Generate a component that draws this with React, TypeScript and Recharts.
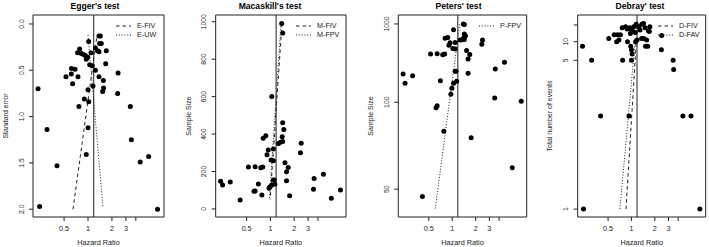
import React from 'react';
import { ScatterChart, Scatter, XAxis, YAxis, ReferenceLine, ReferenceArea, Legend } from 'recharts';

const FONT = '"Liberation Sans", Arial, Helvetica, sans-serif';
const INK = '#222';

// shared hazard ratio axis (log scale)
const hrTicks = [0.5, 1, 2, 3, 4];
const hrDomain: [number, number] = [0.203, 9.05];
const pooledHR = 1.18;

// Egger's test: hazard ratio vs standard error
const eggerHR = [0.235, 0.246, 0.305, 0.407, 0.528, 0.616, 0.62, 0.686, 0.64, 0.748, 0.77, 0.74, 0.784, 0.824, 0.88, 0.925, 0.952, 0.99, 1.02, 1.05, 1.09, 1.13, 0.9, 1.0, 1.02, 1.0, 0.95, 1.156, 1.24, 1.24, 1.32, 1.375, 1.43, 1.4, 1.47, 1.375, 1.375, 1.56, 1.57, 1.53, 1.67, 1.7, 2.39, 2.36, 3.41, 3.51, 4.55, 5.8, 7.5];
const eggerSE = [0.7, 1.97, 1.14, 1.53, 0.57, 0.54, 0.48, 0.49, 0.645, 0.57, 0.89, 0.31, 0.27, 0.32, 0.33, 0.34, 0.38, 0.36, 0.19, 0.44, 0.31, 0.45, 0.81, 0.71, 0.84, 1.12, 1.41, 0.67, 0.5, 0.26, 0.29, 0.13, 0.13, 0.21, 0.21, 0.3, 0.57, 0.61, 0.69, 0.73, 0.43, 0.29, 0.53, 0.75, 0.89, 1.25, 1.49, 1.43, 2.0];
const eggerFivHR = [0.647, 1.3];
const eggerFivSE = [2.0, 0.12];
const eggerUwHR = [1.0, 1.54];
const eggerUwSE = [0.12, 1.97];
const eggerTicks = [0, 0.5, 1, 1.5, 2];
const eggerTickLabels = ['0.0', '0.5', '1.0', '1.5', '2.0'];

// Macaskill's and Peters' tests: hazard ratio vs sample size
const studyHR = [1.39, 1.43, 1.04, 1.43, 1.48, 1.41, 0.81, 0.875, 1.26, 1.34, 1.43, 1.09, 0.94, 0.906, 1.02, 1.09, 2.45, 2.4, 1.53, 1.68, 1.6, 1.6, 1.75, 0.527, 0.64, 0.755, 0.8, 0.234, 0.248, 0.31, 0.414, 0.64, 0.62, 0.705, 0.78, 0.99, 1.04, 1.09, 0.96, 1.12, 1.14, 3.57, 3.51, 4.69, 5.9, 7.7];
const sampleSize = [990, 940, 600, 461, 425, 386, 377, 391, 350, 356, 360, 320, 315, 290, 262, 258, 351, 300, 247, 221, 199, 150, 71, 224, 226, 220, 224, 148, 128, 144, 48, 96, 94, 133, 75, 119, 128, 155, 110, 155, 132, 162, 105, 185, 57, 101];
const macaskillFivHR = [1.4, 0.99];
const macaskillFivN = [990, 50];
const macaskillFpvHR = [1.36, 0.97];
const macaskillFpvN = [990, 50];
const macaskillTicks = [0, 200, 400, 600, 800, 1000];
const petersFpvHR = [0.606, 1.25];
const petersFpvN = [45, 1000];
const petersTickN = [1000, 100, 50];

// Debray's test: hazard ratio vs total number of events
const debrayHR = [0.241, 7.6, 0.4, 0.93, 4.6, 5.85, 0.234, 0.307, 0.77, 1.0, 3.44, 3.5, 2.43, 2.45, 0.51, 0.6, 0.66, 0.72, 0.69, 0.645, 0.89, 0.98, 1.0, 1.02, 1.13, 1.18, 1.35, 1.44, 1.57, 1.52, 1.62, 1.7, 0.76, 0.84, 0.88, 0.95, 1.0, 1.07, 1.15, 1.24, 1.36, 1.43, 1.5, 1.05, 1.12, 0.97, 1.29, 1.73, 1.65];
const debrayEvents = [1, 1, 2, 2, 2, 2, 8, 5, 5, 5, 5, 4, 7, 15, 12, 16, 16, 16, 11, 10, 10, 8, 7, 6, 10, 11, 12, 12, 11, 8, 8, 22, 40, 52, 32, 40, 27, 52, 150, 52, 150, 500, 40, 22, 20, 18, 27, 52, 24];
const debrayFivHR = [0.85, 1.15];
const debrayFivEvents = [1, 9];
const debrayFavHR = [0.71, 1.11];
const debrayFavEvents = [1, 9];
const debrayTickEvents = [100, 10, 5, 1];
const debrayTickLabels = ['', '10', '5', '1'];

const DASHED = '3.5 3';
const DOTTED = '1 1.8';

type Pt = { x: number; y: number };
const zip = (xs: number[], ys: number[], f: (v: number) => number = (v) => v): Pt[] =>
  xs.map((x, i) => ({ x, y: f(ys[i]) }));
const inv = (v: number) => 1 / v;

const dot = (props: any) => <circle cx={props.cx} cy={props.cy} r={2.5} fill="#000" />;
const noShape = () => <g />;

interface PanelProps {
  left: number;
  width: number;
  yWidth: number;
  right: number;
  title: string;
  titleX: number;
  yLabel: string;
  yLabelX: number;
  yDomain: [number, number];
  reversed: boolean;
  yTicks: number[];
  yTickLabels: string[];
  points: Pt[];
  lines: { pts: Pt[]; dash: string }[];
  legend: { label: string; dash: string }[];
  legendX: number;
}

function Panel(p: PanelProps) {
  const yTick = (props: any) => {
    const idx = p.yTicks.indexOf(props.payload.value);
    return (
      <text transform={`translate(${props.x - 3.5},${props.y}) rotate(-90)`} textAnchor="middle" fontSize={6.8} fill={INK} fontFamily={FONT}>
        {idx >= 0 ? p.yTickLabels[idx] : ''}
      </text>
    );
  };
  const legendContent = () => (
    <div style={{ fontFamily: FONT, fontSize: 7.2, color: INK }}>
      {p.legend.map((l) => (
        <div key={l.label} style={{ display: 'flex', alignItems: 'center', height: 9 }}>
          <svg width={15} height={6}>
            <line x1={0} y1={3} x2={15} y2={3} stroke={INK} strokeDasharray={l.dash} />
          </svg>
          <span style={{ marginLeft: 6 }}>{l.label}</span>
        </div>
      ))}
    </div>
  );
  return (
    <div style={{ position: 'absolute', left: p.left, top: 0, width: p.width, height: 247 }}>
      <div style={{ position: 'absolute', left: p.titleX - p.left - 50, width: 100, top: 1, textAlign: 'center', fontFamily: FONT, fontWeight: 'bold', fontSize: 8.6, color: '#000' }}>
        {p.title}
      </div>
      <ScatterChart width={p.width} height={247} margin={{ top: 15, right: p.right, bottom: 0, left: 0 }}>
        <XAxis
          type="number"
          dataKey="x"
          scale="log"
          domain={hrDomain}
          allowDataOverflow
          ticks={hrTicks}
          interval={0}
          tickFormatter={(v: number) => (v === 4 ? '' : String(v))}
          height={30}
          axisLine={false}
          tickSize={4}
          tickMargin={5}
          tickLine={{ stroke: INK }}
          tick={{ fontSize: 7.2, fill: INK, fontFamily: FONT }}
          label={{
            content: ({ viewBox }: any) => (
              <text x={viewBox.x + viewBox.width / 2} y={viewBox.y + 27.5} textAnchor="middle" fontSize={7.3} fill={INK} fontFamily={FONT}>
                Hazard Ratio
              </text>
            ),
          }}
        />
        <YAxis
          type="number"
          dataKey="y"
          domain={p.yDomain}
          allowDataOverflow
          reversed={p.reversed}
          ticks={p.yTicks}
          interval={0}
          width={p.yWidth}
          axisLine={false}
          tickSize={4}
          tickLine={{ stroke: INK }}
          tick={yTick}
          label={{
            content: ({ viewBox }: any) => (
              <text
                transform={`translate(${p.yLabelX},${viewBox.y + viewBox.height / 2}) rotate(-90)`}
                textAnchor="middle"
                dominantBaseline="central"
                fontSize={7}
                fill={INK}
                fontFamily={FONT}
              >
                {p.yLabel}
              </text>
            ),
          }}
        />
        <ReferenceArea x1={hrDomain[0]} x2={hrDomain[1]} y1={p.yDomain[0]} y2={p.yDomain[1]} fill="none" stroke={INK} strokeWidth={1} ifOverflow="visible" />
        <ReferenceLine x={pooledHR} stroke={INK} strokeWidth={1} />
        {p.lines.map((l, i) => (
          <Scatter key={i} data={l.pts} shape={noShape} line={{ stroke: INK, strokeWidth: 1, strokeDasharray: l.dash }} legendType="none" isAnimationActive={false} />
        ))}
        <Scatter data={p.points} shape={dot} fill="#000" isAnimationActive={false} />
        <Legend layout="horizontal" verticalAlign="middle" align="center" wrapperStyle={{ left: p.legendX, top: 21, width: 60, height: 20 }} content={legendContent} />
      </ScatterChart>
    </div>
  );
}

export default function App() {
  const petersTicks = petersTickN.map(inv);
  const debrayTicks = debrayTickEvents.map(inv);
  return (
    <div style={{ position: 'absolute', left: 0, top: 0, width: 709, height: 247, background: '#fff' }}>
      <Panel
        left={0}
        width={170}
        yWidth={33}
        right={6}
        title="Egger's test"
        titleX={95}
        yLabel="Standard error"
        yLabelX={5.5}
        yDomain={[-0.097, 2.084]}
        reversed
        yTicks={eggerTicks}
        yTickLabels={eggerTickLabels}
        points={zip(eggerHR, eggerSE)}
        lines={[
          { pts: zip(eggerFivHR, eggerFivSE), dash: DASHED },
          { pts: zip(eggerUwHR, eggerUwSE), dash: DOTTED },
        ]}
        legend={[
          { label: 'E-FIV', dash: DASHED },
          { label: 'E-UW', dash: DOTTED },
        ]}
        legendX={116}
      />
      <Panel
        left={172}
        width={178}
        yWidth={43.7}
        right={4}
        title="Macaskill's test"
        titleX={270}
        yLabel="Sample Size"
        yLabelX={16.5}
        yDomain={[-43, 1036]}
        reversed={false}
        yTicks={macaskillTicks}
        yTickLabels={macaskillTicks.map(String)}
        points={zip(studyHR, sampleSize)}
        lines={[
          { pts: zip(macaskillFivHR, macaskillFivN), dash: DASHED },
          { pts: zip(macaskillFpvHR, macaskillFpvN), dash: DOTTED },
        ]}
        legend={[
          { label: 'M-FIV', dash: DASHED },
          { label: 'M-FPV', dash: DOTTED },
        ]}
        legendX={124}
      />
      <Panel
        left={352}
        width={178}
        yWidth={46.3}
        right={3.3}
        title="Peters' test"
        titleX={458.5}
        yLabel="Sample Size"
        yLabelX={18}
        yDomain={[-0.00003, 0.0232]}
        reversed
        yTicks={petersTicks}
        yTickLabels={petersTickN.map(String)}
        points={zip(studyHR, sampleSize, inv)}
        lines={[{ pts: zip(petersFpvHR, petersFpvN, inv), dash: DOTTED }]}
        legend={[{ label: 'P-FPV', dash: DOTTED }]}
        legendX={127}
      />
      <Panel
        left={532}
        width={177}
        yWidth={45.7}
        right={3.3}
        title="Debray' test"
        titleX={640}
        yLabel="Total number of events"
        yLabelX={17.5}
        yDomain={[-0.0435, 1.0425]}
        reversed
        yTicks={debrayTicks}
        yTickLabels={debrayTickLabels}
        points={zip(debrayHR, debrayEvents, inv)}
        lines={[
          { pts: zip(debrayFivHR, debrayFivEvents, inv), dash: DASHED },
          { pts: zip(debrayFavHR, debrayFavEvents, inv), dash: DOTTED },
        ]}
        legend={[
          { label: 'D-FIV', dash: DASHED },
          { label: 'D-FAV', dash: DOTTED },
        ]}
        legendX={126}
      />
    </div>
  );
}
